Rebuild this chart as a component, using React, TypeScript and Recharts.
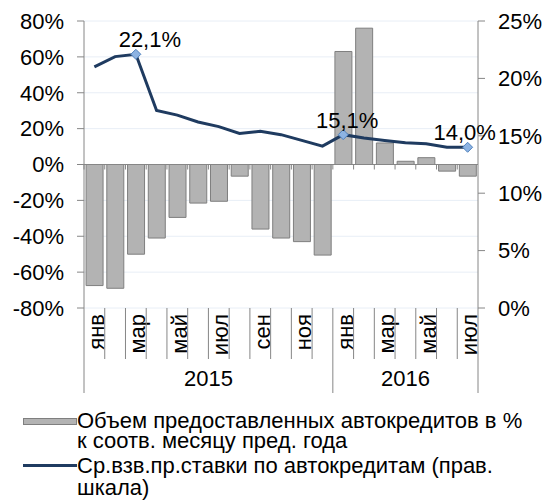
import {
  ComposedChart,
  Bar,
  Line,
  XAxis,
  YAxis,
  CartesianGrid,
  ReferenceLine,
  LabelList,
} from "recharts";

const MONTHS = [
  "янв", "фев", "мар", "апр", "май", "июн", "июл", "авг", "сен", "окт", "ноя", "дек",
  "янв", "фев", "мар", "апр", "май", "июн", "июл",
];
const YEARS = ["2015", "2016"];
const MONTHS_PER_YEAR = [12, 7];

// объем автокредитов, % к соотв. месяцу пред. года (левая шкала)
const VOLUME = [
  -67.5, -69, -50, -41, -29.5, -21.5, -20.5, -6.5, -36, -41, -43, -50.5,
  63, 76, 12, 1.8, 3.8, -3.7, -6.5,
];
// ср.взв. ставки, % (правая шкала)
const RATE = [
  21.0, 21.9, 22.1, 17.2, 16.8, 16.2, 15.8, 15.2, 15.4, 15.1, 14.6, 14.1,
  15.1, 14.8, 14.6, 14.4, 14.3, 14.0, 14.0,
];
const LABELED_POINTS = [2, 12, 18];

const LEFT_TICKS = [-80, -60, -40, -20, 0, 20, 40, 60, 80];
const RIGHT_TICKS = [0, 5, 10, 15, 20, 25];

const SERIES_NAMES = [
  "Объем предоставленных автокредитов в % к соотв. месяцу пред. года",
  "Ср.взв.пр.ставки по автокредитам (прав. шкала)",
];

const data = MONTHS.map((m, i) => ({ month: m, volume: VOLUME[i], rate: RATE[i] }));

const yearStarts = MONTHS_PER_YEAR.map((_, i) =>
  MONTHS_PER_YEAR.slice(0, i).reduce((a, b) => a + b, 0)
);

const FONT = "'Liberation Sans', Arial, sans-serif";
const AXIS = "#868686";
const TEXT = "#000";
const BAR_FILL = "#b3b3b3";
const BAR_STROKE = "#7f7f7f";
const LINE = "#1f3b60";
const FS = 22;
const LABEL_DX: Record<number, number> = { 2: 14, 12: 4, 18: -3 };

function MonthTick(props: any) {
  const { x, y, payload, index } = props;
  const half = payload?.offset ?? 394 / MONTHS.length / 2;
  const yi = yearStarts.indexOf(index);
  const isStart = yi >= 0;
  const last = index === MONTHS.length - 1;
  return (
    <g>
      <line x1={x - half} x2={x - half} y1={y} y2={y + (isStart ? 85 : 51)} stroke={AXIS} />
      {last && <line x1={x + half} x2={x + half} y1={y} y2={y + 85} stroke={AXIS} />}
      {index % 2 === 0 && (
        <text
          transform={`translate(${x + 2},${y + 6}) rotate(-90)`}
          textAnchor="end"
          dominantBaseline="central"
          fontSize={FS}
          fontFamily={FONT}
          fill={TEXT}
        >
          {payload.value}
        </text>
      )}
      {isStart && (
        <text
          x={x - half + MONTHS_PER_YEAR[yi] * half}
          y={y + 70}
          textAnchor="middle"
          dominantBaseline="central"
          fontSize={FS}
          fontFamily={FONT}
          fill={TEXT}
        >
          {YEARS[yi]}
        </text>
      )}
    </g>
  );
}

function ZeroLine(props: any) {
  const { x1, x2, y1 } = props;
  const step = (x2 - x1) / MONTHS.length;
  return (
    <g>
      <line x1={x1} x2={x2} y1={y1} y2={y1} stroke={AXIS} strokeWidth={1} />
      {MONTHS.map((_, i) => (
        <line key={i} x1={x1 + step * i} x2={x1 + step * i} y1={y1} y2={y1 + 5} stroke={AXIS} />
      ))}
    </g>
  );
}

function Diamond(props: any) {
  const { cx, cy, index } = props;
  if (!LABELED_POINTS.includes(index)) return <g key={index} />;
  const r = 5;
  return (
    <path
      key={index}
      d={`M${cx},${cy - r}L${cx + r},${cy}L${cx},${cy + r}L${cx - r},${cy}Z`}
      fill="#8db3e2"
      stroke="#4f81bd"
      strokeWidth={1}
    />
  );
}

function RateLabel(props: any) {
  const { x, y, value, index } = props;
  if (!LABELED_POINTS.includes(index)) return null;
  return (
    <text
      x={x + (LABEL_DX[index] ?? 0)}
      y={y - 7}
      textAnchor="middle"
      fontSize={FS}
      fontFamily={FONT}
      fill={TEXT}
    >
      {`${Number(value).toFixed(1).replace(".", ",")}%`}
    </text>
  );
}

const tickStyle = { fontSize: FS, fontFamily: FONT, fill: TEXT };

export default function App() {
  return (
    <div
      style={{
        position: "absolute",
        left: 0,
        top: 0,
        width: 542,
        height: 504,
        background: "#fff",
        fontFamily: FONT,
      }}
    >
      <ComposedChart
        width={542}
        height={400}
        data={data}
        margin={{ top: 21, right: 0, bottom: 0, left: 0 }}
        barCategoryGap="10%"
      >
        <CartesianGrid yAxisId="left" vertical={false} stroke="#e8eef6" />
        <XAxis
          dataKey="month"
          height={92}
          interval={0}
          tickLine={false}
          axisLine={false}
          tickSize={0}
          tickMargin={0}
          tick={<MonthTick />}
        />
        <YAxis
          yAxisId="left"
          domain={[-80, 80]}
          ticks={LEFT_TICKS}
          width={84}
          tickSize={7}
          tickMargin={13}
          stroke={AXIS}
          tick={tickStyle}
          tickFormatter={(v: number) => `${v}%`}
        />
        <YAxis
          yAxisId="right"
          orientation="right"
          domain={[0, 25]}
          ticks={RIGHT_TICKS}
          width={64}
          tickSize={7}
          tickMargin={13}
          stroke={AXIS}
          tick={tickStyle}
          tickFormatter={(v: number) => `${v}%`}
        />
        <Bar
          yAxisId="left"
          dataKey="volume"
          fill={BAR_FILL}
          stroke={BAR_STROKE}
          strokeWidth={1}
          isAnimationActive={false}
        />
        <ReferenceLine yAxisId="left" y={0} shape={<ZeroLine />} />
        <Line
          yAxisId="right"
          dataKey="rate"
          type="linear"
          stroke={LINE}
          strokeWidth={3}
          dot={<Diamond />}
          activeDot={false}
          isAnimationActive={false}
        >
          <LabelList dataKey="rate" content={<RateLabel />} />
        </Line>
      </ComposedChart>

      <div style={{ position: "absolute", left: 0, top: 0, width: 542, fontSize: FS, color: TEXT }}>
        <div style={{ position: "absolute", left: 0, top: 411, width: 542, lineHeight: "20px" }}>
          <div
            style={{
              position: "absolute",
              left: 23,
              top: 7,
              width: 52,
              height: 5,
              background: BAR_FILL,
              border: `1px solid ${BAR_STROKE}`,
            }}
          />
          <div style={{ position: "absolute", left: 77, top: 0, width: 452 }}>{SERIES_NAMES[0]}</div>
        </div>
        <div style={{ position: "absolute", left: 0, top: 455, width: 542, lineHeight: "22px" }}>
          <div style={{ position: "absolute", left: 23, top: 9, width: 54, height: 3, background: LINE }} />
          <div style={{ position: "absolute", left: 77, top: 0, width: 452 }}>{SERIES_NAMES[1]}</div>
        </div>
      </div>
    </div>
  );
}
